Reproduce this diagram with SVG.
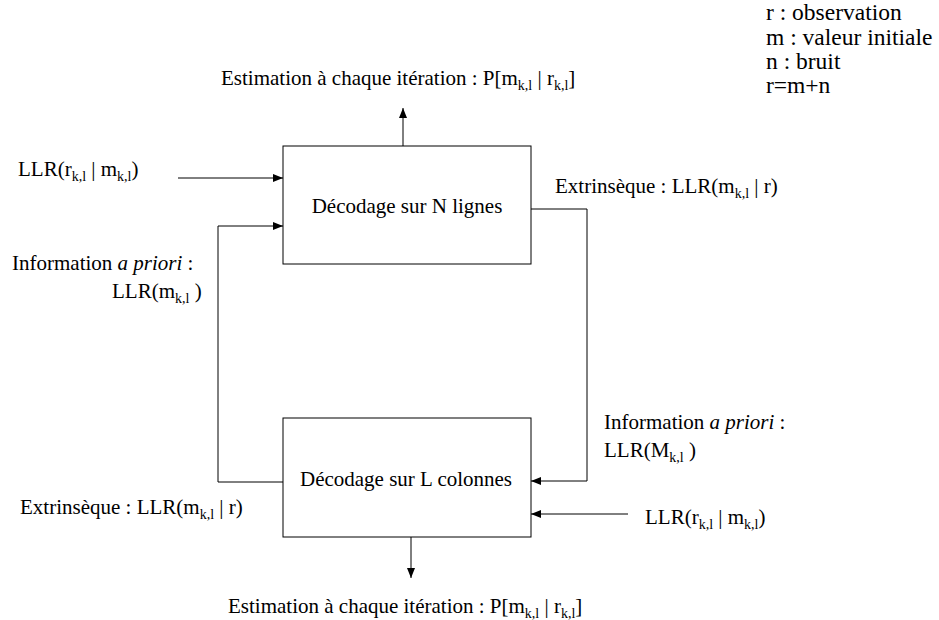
<svg xmlns="http://www.w3.org/2000/svg" width="939" height="620" viewBox="0 0 939 620">
  <style>
    text { font-family: "Liberation Serif", "Times New Roman", serif; font-size: 21px; fill: #000; }
    .sub { font-size: 14px; }
    .legend { font-size: 23.5px; }
    .box { fill: #fff; stroke: #000; stroke-width: 1; }
    .wire { fill: none; stroke: #000; stroke-width: 1; }
  </style>
  <defs>
    <marker id="arrow" viewBox="0 0 10 10" refX="10" refY="5" markerWidth="10" markerHeight="10" markerUnits="userSpaceOnUse" orient="auto">
      <path d="M0,1 L10,5 L0,9 Z" fill="#000"/>
    </marker>
  </defs>

  <rect width="939" height="620" fill="#fff"/>

  <!-- legend -->
  <g id="legend">
    <text class="legend" x="766" y="20">r : observation</text>
    <text class="legend" x="766" y="45">m : valeur initiale</text>
    <text class="legend" x="766" y="69">n : bruit</text>
    <text class="legend" x="766" y="93">r=m+n</text>
  </g>

  <!-- connectors -->
  <g id="connectors">
    <line class="wire" x1="403" y1="146" x2="403" y2="108" marker-end="url(#arrow)"/>
    <line class="wire" x1="178" y1="178" x2="283" y2="178" marker-end="url(#arrow)"/>
    <polyline class="wire" points="283,482 218,482 218,226 283,226" marker-end="url(#arrow)"/>
    <polyline class="wire" points="531,209 587,209 587,481 531,481" marker-end="url(#arrow)"/>
    <line class="wire" x1="628" y1="514" x2="531" y2="514" marker-end="url(#arrow)"/>
    <line class="wire" x1="411" y1="537" x2="411" y2="578" marker-end="url(#arrow)"/>
  </g>

  <!-- row decoder -->
  <g id="decodeur-lignes">
    <rect class="box" x="283" y="146" width="248" height="118"/>
    <text x="407" y="213" text-anchor="middle">Décodage sur N lignes</text>
  </g>

  <!-- column decoder -->
  <g id="decodeur-colonnes">
    <rect class="box" x="283" y="418" width="248" height="119"/>
    <text x="406" y="486" text-anchor="middle">Décodage sur L colonnes</text>
  </g>

  <!-- labels -->
  <g id="labels">
    <text x="221" y="85">Estimation à chaque itération : P[m<tspan class="sub" dy="5">k,l</tspan><tspan dy="-5"> | r</tspan><tspan class="sub" dy="5">k,l</tspan><tspan dy="-5">]</tspan></text>
    <text x="18" y="176">LLR(r<tspan class="sub" dy="5">k,l</tspan><tspan dy="-5"> | m</tspan><tspan class="sub" dy="5">k,l</tspan><tspan dy="-5">)</tspan></text>
    <text x="12" y="270">Information <tspan font-style="italic">a priori</tspan> :</text>
    <text x="112" y="298">LLR(m<tspan class="sub" dy="5">k,l</tspan><tspan dy="-5"> )</tspan></text>
    <text x="555" y="193">Extrinsèque : LLR(m<tspan class="sub" dy="5">k,l</tspan><tspan dy="-5"> | r)</tspan></text>
    <text x="604" y="429">Information <tspan font-style="italic">a priori</tspan> :</text>
    <text x="604" y="457">LLR(M<tspan class="sub" dy="5">k,l</tspan><tspan dy="-5"> )</tspan></text>
    <text x="645" y="524">LLR(r<tspan class="sub" dy="5">k,l</tspan><tspan dy="-5"> | m</tspan><tspan class="sub" dy="5">k,l</tspan><tspan dy="-5">)</tspan></text>
    <text x="20" y="514">Extrinsèque : LLR(m<tspan class="sub" dy="5">k,l</tspan><tspan dy="-5"> | r)</tspan></text>
    <text x="228" y="613">Estimation à chaque itération : P[m<tspan class="sub" dy="5">k,l</tspan><tspan dy="-5"> | r</tspan><tspan class="sub" dy="5">k,l</tspan><tspan dy="-5">]</tspan></text>
  </g>
</svg>
